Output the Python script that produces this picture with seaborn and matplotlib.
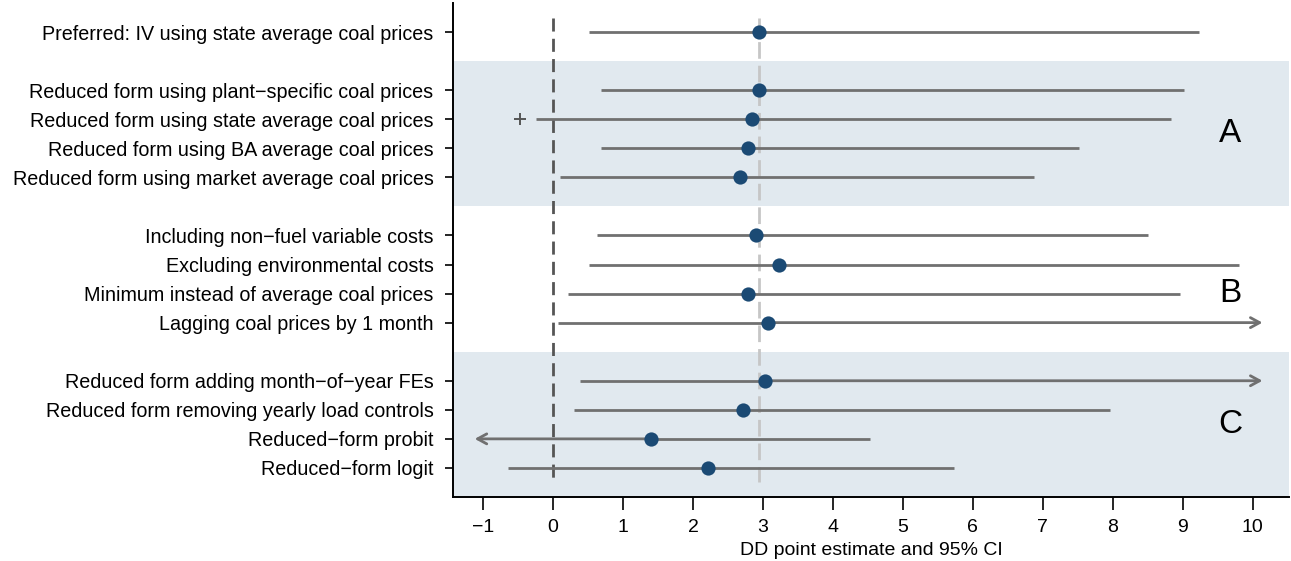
import matplotlib
matplotlib.use("Agg")
import matplotlib.pyplot as plt
import seaborn as sns
import pandas as pd
import numpy as np

labels = [
    "Preferred: IV using state average coal prices",
    "Reduced form using plant\u2212specific coal prices",
    "Reduced form using state average coal prices",
    "Reduced form using BA average coal prices",
    "Reduced form using market average coal prices",
    "Including non\u2212fuel variable costs",
    "Excluding environmental costs",
    "Minimum instead of average coal prices",
    "Lagging coal prices by 1 month",
    "Reduced form adding month\u2212of\u2212year FEs",
    "Reduced form removing yearly load controls",
    "Reduced\u2212form probit",
    "Reduced\u2212form logit",
]
positions = [0, 2, 3, 4, 5, 7, 8, 9, 10, 12, 13, 14, 15]
estimate = [2.94, 2.95, 2.84, 2.79, 2.67, 2.90, 3.23, 2.79, 3.07, 3.03, 2.71, 1.40, 2.21]
ci_low = [0.51, 0.69, -0.25, 0.69, 0.10, 0.63, 0.51, 0.21, 0.07, 0.39, 0.30, -1.12, -0.65]
ci_high = [9.23, 9.02, 8.83, 7.52, 6.87, 8.50, 9.81, 8.96, 10.14, 10.14, 7.96, 4.53, 5.73]
arrow_low = [False]*11 + [True, False]
arrow_high = [False]*8 + [True, True] + [False]*3
plus_pos = [3]
plus_val = [-0.47]
panel_names = ["A", "B", "C"]
panel_y = [3.5, 9.0, 13.5]
shaded_spans = [(1, 6), (11, 16)]
xticks = list(range(-1, 11))
xlabel = "DD point estimate and 95% CI"

df = pd.DataFrame({"label": labels, "pos": positions, "est": estimate,
                   "lo": ci_low, "hi": ci_high})

sns.set_theme(style="white")
plt.rcParams["font.family"] = ["Liberation Sans", "DejaVu Sans"]
plt.rcParams["text.color"] = "black"
plt.rcParams["axes.labelcolor"] = "black"
plt.rcParams["xtick.color"] = "black"
plt.rcParams["ytick.color"] = "black"

fig = plt.figure(figsize=(12.91, 5.61), dpi=100)
ax = fig.add_axes([0.3509, 0.1141, 0.6476, 0.8806])

line_col = "#707070"
pt_col = "#1b4a74"
lw = 2.0

for a, b in shaded_spans:
    ax.axhspan(a, b, color="#e1e9ef", zorder=0, lw=0)

ax.vlines(0, -0.5, 15.5, colors="#555555", linestyles=(0, (4.7, 2.6)), lw=2.0, zorder=1)
ax.vlines(estimate[0], -0.5, 15.5, colors="#c6c6c6", linestyles=(0, (6, 2.5)), lw=2.0, zorder=1)

astyle = "->,head_length=0.55,head_width=0.3"
for i, r in df.iterrows():
    lo, hi = r["lo"], r["hi"]
    if arrow_low[i]:
        ax.annotate("", xy=(lo, r["pos"]), xytext=(r["est"], r["pos"]),
                    arrowprops=dict(arrowstyle=astyle, color=line_col, lw=lw,
                                    shrinkA=0, shrinkB=0), zorder=2)
        ax.hlines(r["pos"], r["est"], hi, colors=line_col, lw=lw, zorder=2)
    elif arrow_high[i]:
        ax.annotate("", xy=(hi, r["pos"]), xytext=(r["est"], r["pos"]),
                    arrowprops=dict(arrowstyle=astyle, color=line_col, lw=lw,
                                    shrinkA=0, shrinkB=0), zorder=2)
        ax.hlines(r["pos"], lo, r["est"], colors=line_col, lw=lw, zorder=2)
    else:
        ax.hlines(r["pos"], lo, hi, colors=line_col, lw=lw, zorder=2)

ax.plot(plus_val, plus_pos, marker="+", ms=9, mew=1.4, color="#555555", ls="none", zorder=3)

sns.scatterplot(data=df, x="est", y="pos", ax=ax, s=105, color=pt_col,
                edgecolor=pt_col, linewidth=0, zorder=4, legend=False)

for name, y in zip(panel_names, panel_y):
    ax.text(9.68, y, name, fontsize=24, ha="center", va="center", color="black")

ax.set_xlim(-1.43, 10.52)
ax.set_ylim(16, -1)
ax.set_yticks(positions)
ax.set_yticklabels(labels, fontsize=14.2)
ax.set_xticks(xticks)
ax.set_xticklabels([str(t).replace("-", "\u2212") for t in xticks], fontsize=14)
ax.set_xlabel(xlabel, fontsize=14, labelpad=4)
ax.set_ylabel("")
for s in ["top", "right"]:
    ax.spines[s].set_visible(False)
for s in ["left", "bottom"]:
    ax.spines[s].set_color("black")
    ax.spines[s].set_linewidth(1.4)
ax.tick_params(axis="x", length=9, width=1.2, direction="out", bottom=True, pad=7)
ax.tick_params(axis="y", length=6, width=1.2, direction="out", left=True, pad=8)

fig.savefig("out.png", dpi=100)
